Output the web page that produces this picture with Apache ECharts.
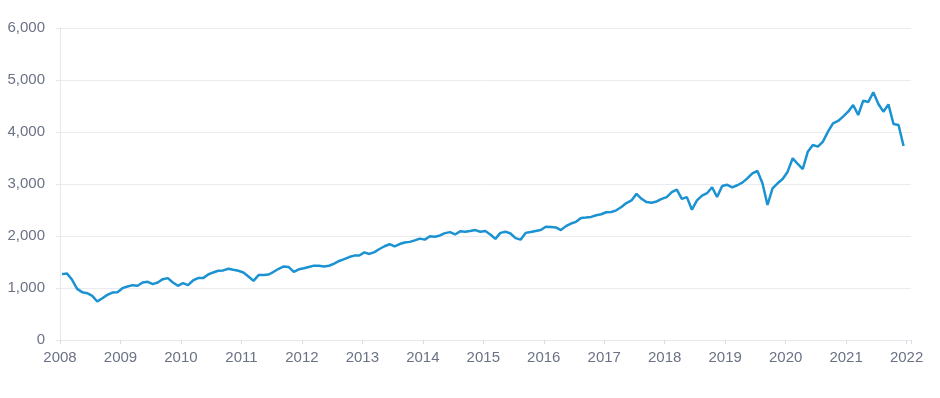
<!DOCTYPE html>
<html>
<head>
<meta charset="utf-8">
<script src="https://cdn.jsdelivr.net/npm/echarts@6/dist/echarts.min.js"></script>
<style>
  html, body { margin: 0; padding: 0; background: #fff; }
  #chart { width: 940px; height: 398px; }
</style>
</head>
<body>
<div id="chart"></div>
<script>
// monthly values, Jan 2008 .. Dec 2021
var startYear = 2008;
var values2008_2011 = [
    1267, 1280, 1158, 984, 920, 900, 849, 740, 804, 868, 913, 920,
    997, 1029, 1055, 1042, 1106, 1119, 1074, 1106, 1170, 1190, 1106, 1042,
    1093, 1055, 1145, 1190, 1190, 1260, 1299, 1331, 1338, 1370, 1350, 1331,
    1299, 1222, 1138, 1248, 1248, 1260, 1312, 1370, 1415, 1402, 1310, 1360
];
var values2012_2015 = [
    1380, 1405, 1430, 1430, 1415, 1428, 1470, 1520, 1555, 1595, 1623, 1625,
    1685, 1655, 1690, 1750, 1803, 1842, 1800, 1845, 1876, 1887, 1915, 1950,
    1930, 1995, 1985, 2010, 2055, 2075, 2030, 2090, 2083, 2098, 2114, 2082,
    2097, 2030, 1945, 2060, 2083, 2048, 1960, 1930, 2060, 2076, 2095, 2114
];
var values2016_2019 = [
    2177, 2171, 2165, 2114, 2190, 2240, 2272, 2348, 2354, 2367, 2399, 2418,
    2456, 2462, 2494, 2557, 2633, 2684, 2810, 2715, 2652, 2639, 2665, 2715,
    2747, 2842, 2892, 2715, 2747, 2506, 2684, 2778, 2823, 2937, 2750, 2962,
    2985, 2936, 2976, 3026, 3109, 3205, 3250, 3013, 2596, 2917, 3013, 3096
];
var values2020_2021 = [
    3237, 3494, 3385, 3288, 3622, 3750, 3718, 3814, 4006, 4167, 4212, 4295,
    4391, 4519, 4327, 4603, 4577, 4763, 4538, 4391, 4532, 4154, 4135, 3731
];
var yearTicks = [2008, 2022];
var yTicks = [0, 6000, 1000];

var values = values2008_2011.concat(values2012_2015, values2016_2019, values2020_2021);
var seriesData = values.map(function (v, i) {
    return [startYear + (i + 0.4) / 12, v];
});

var myChart = echarts.init(document.getElementById('chart'));

var labelStyle = {
    color: '#6b7285',
    fontFamily: 'Liberation Sans, Arial, sans-serif',
    fontSize: 15
};

var option = {
    animation: false,
    grid: {
        left: 60,
        right: 29,
        top: 28,
        bottom: 58
    },
    xAxis: {
        type: 'value',
        min: yearTicks[0],
        max: yearTicks[1] + 0.073,
        interval: 1,
        splitLine: { show: false },
        axisLine: { lineStyle: { color: '#e6e7ec', width: 1 } },
        axisTick: { show: true, length: 4, lineStyle: { color: '#dcdde3' } },
        axisLabel: Object.assign({
            margin: 10,
            showMaxLabel: true,
            formatter: function (v) {
                return Math.abs(v - Math.round(v)) < 1e-6 ? String(Math.round(v)) : '';
            }
        }, labelStyle)
    },
    yAxis: {
        type: 'value',
        min: yTicks[0],
        max: yTicks[1],
        interval: yTicks[2],
        axisLine: { show: true, lineStyle: { color: '#e6e7ec', width: 1 } },
        axisTick: { show: true, length: 4, lineStyle: { color: '#e6e7ec' } },
        splitLine: { lineStyle: { color: '#ebebef', width: 1 } },
        axisLabel: Object.assign({
            margin: 15,
            formatter: function (v) {
                return v.toLocaleString('en-US');
            }
        }, labelStyle)
    },
    series: [
        {
            type: 'line',
            data: seriesData,
            showSymbol: false,
            lineStyle: { color: '#1b92d1', width: 2.5 },
            itemStyle: { color: '#1b92d1' }
        }
    ]
};

myChart.setOption(option);
</script>
</body>
</html>
